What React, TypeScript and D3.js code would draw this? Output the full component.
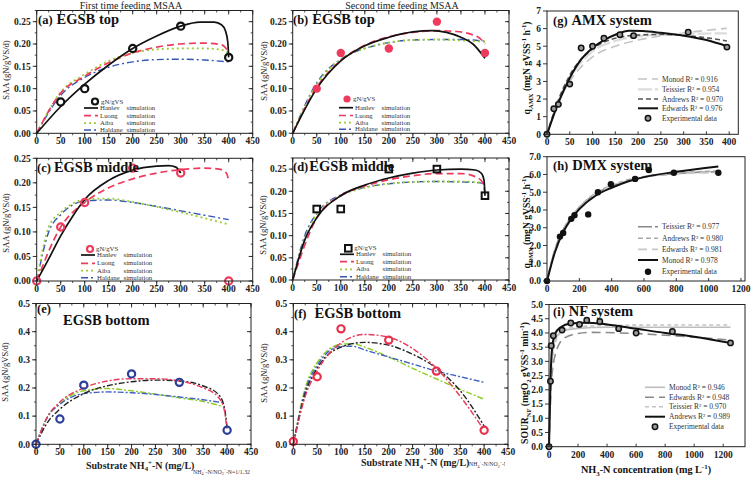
import React from 'react';
import * as d3 from 'd3';

type P = [number, number];

// ---------- tick labels ----------
const saaXTicks = [0, 50, 100, 150, 200, 250, 300, 350, 400, 450];
const saaYTicks = [0, 0.05, 0.1, 0.15, 0.2, 0.25];
const botYTicks = [0, 0.1, 0.2, 0.3, 0.4, 0.5];
const gXTicks = [0, 50, 100, 150, 200, 250, 300, 350, 400];
const gYTicks = [0, 1, 2, 3, 4, 5, 6, 7];
const hXTicks = [0, 200, 400, 600, 800, 1000, 1200];
const hYTicks = [0, 1, 2, 3, 4, 5, 6, 7];
const iXTicks = [0, 200, 400, 600, 800, 1000, 1200];
const iYTicks = [0, 0.5, 1, 1.5, 2, 2.5, 3, 3.5, 4, 4.5, 5];

// ---------- (a) ----------
const aObsX = [50, 100, 200, 300, 400];
const aObsY = [0.07, 0.10, 0.19, 0.24, 0.17];
const aHanlev: P[] = [[0, 0], [50, 0.06], [100, 0.11], [150, 0.153], [200, 0.19], [250, 0.218], [300, 0.24], [340, 0.249], [370, 0.249], [385, 0.243], [393, 0.23], [398, 0.205], [400, 0.17]];
const aLuong: P[] = [[0, 0], [50, 0.09], [100, 0.128], [150, 0.158], [200, 0.18], [250, 0.193], [300, 0.2], [350, 0.202], [385, 0.198], [400, 0.182]];
const aAiba: P[] = [[0, 0], [50, 0.092], [100, 0.132], [150, 0.162], [200, 0.18], [250, 0.188], [300, 0.19], [350, 0.19], [385, 0.187], [400, 0.18]];
const aHaldane: P[] = [[0, 0], [50, 0.085], [100, 0.125], [150, 0.148], [200, 0.16], [250, 0.165], [300, 0.166], [350, 0.164], [400, 0.16]];

// ---------- (b) ----------
const bObsX = [50, 100, 200, 300, 400];
const bObsY = [0.10, 0.18, 0.19, 0.25, 0.18];
const bHanlev: P[] = [[0, 0], [50, 0.1], [100, 0.162], [150, 0.196], [200, 0.215], [250, 0.227], [290, 0.23], [320, 0.226], [350, 0.215], [375, 0.2], [400, 0.168]];
const bLuong: P[] = [[0, 0], [50, 0.103], [100, 0.163], [150, 0.197], [200, 0.216], [250, 0.226], [300, 0.23], [340, 0.228], [370, 0.222], [390, 0.212], [400, 0.2]];
const bAiba: P[] = [[0, 0], [50, 0.11], [100, 0.165], [150, 0.19], [200, 0.203], [250, 0.209], [300, 0.21], [350, 0.208], [400, 0.205]];
const bHaldane: P[] = [[0, 0], [50, 0.113], [100, 0.166], [150, 0.19], [200, 0.203], [250, 0.209], [300, 0.21], [350, 0.21], [400, 0.206]];

// ---------- (c) ----------
const cObsX = [0, 50, 100, 200, 300, 400];
const cObsY = [0, 0.11, 0.16, 0.23, 0.22, 0.0];
const cHanlev: P[] = [[0, 0], [25, 0.045], [50, 0.092], [75, 0.132], [100, 0.166], [150, 0.205], [200, 0.226], [250, 0.234], [275, 0.235], [290, 0.232], [300, 0.22]];
const cLuong: P[] = [[0, 0], [50, 0.11], [100, 0.16], [150, 0.19], [200, 0.208], [250, 0.22], [300, 0.227], [350, 0.23], [380, 0.228], [395, 0.22], [400, 0.205]];
const cAiba: P[] = [[0, 0], [25, 0.11], [50, 0.14], [75, 0.158], [100, 0.166], [150, 0.168], [200, 0.161], [250, 0.151], [300, 0.14], [350, 0.128], [400, 0.115]];
const cHaldane: P[] = [[0, 0], [25, 0.1], [50, 0.135], [75, 0.155], [100, 0.163], [150, 0.165], [200, 0.16], [250, 0.152], [300, 0.143], [350, 0.134], [400, 0.125]];

// ---------- (d) ----------
const dObsX = [50, 100, 200, 300, 400];
const dObsY = [0.16, 0.16, 0.25, 0.25, 0.19];
const dHanlev: P[] = [[0, 0], [25, 0.09], [50, 0.14], [100, 0.19], [150, 0.214], [200, 0.23], [250, 0.241], [300, 0.248], [350, 0.25], [380, 0.248], [393, 0.24], [398, 0.225], [400, 0.19]];
const dLuong: P[] = [[0, 0], [50, 0.14], [100, 0.19], [150, 0.212], [200, 0.226], [250, 0.235], [300, 0.24], [350, 0.24], [380, 0.233], [395, 0.22], [400, 0.198]];
const dAiba: P[] = [[0, 0], [25, 0.095], [50, 0.148], [100, 0.19], [150, 0.208], [200, 0.217], [250, 0.221], [300, 0.222], [350, 0.222], [400, 0.219]];
const dHaldane: P[] = [[0, 0], [25, 0.1], [50, 0.15], [100, 0.192], [150, 0.209], [200, 0.217], [250, 0.221], [300, 0.222], [350, 0.221], [390, 0.219], [400, 0.215]];

// ---------- (e) ----------
const eObsX = [0, 50, 100, 200, 300, 400];
const eObsY = [0, 0.09, 0.21, 0.25, 0.22, 0.05];
const eRed: P[] = [[0, 0], [25, 0.1], [50, 0.15], [100, 0.2], [150, 0.225], [200, 0.233], [250, 0.233], [300, 0.225], [350, 0.2], [380, 0.17], [393, 0.13], [400, 0.05]];
const eBlack: P[] = [[0, 0], [25, 0.08], [50, 0.125], [100, 0.18], [150, 0.208], [200, 0.222], [250, 0.228], [300, 0.225], [350, 0.207], [380, 0.18], [393, 0.14], [400, 0.06]];
const eGreen: P[] = [[0, 0], [25, 0.1], [50, 0.145], [100, 0.19], [150, 0.198], [200, 0.19], [250, 0.178], [300, 0.165], [350, 0.152], [390, 0.135]];
const eBlue: P[] = [[0, 0], [25, 0.1], [50, 0.142], [100, 0.18], [150, 0.186], [200, 0.183], [250, 0.177], [300, 0.168], [350, 0.158], [390, 0.148]];

// ---------- (f) ----------
const fObsX = [0, 50, 100, 200, 300, 400];
const fObsY = [0.01, 0.24, 0.41, 0.37, 0.26, 0.05];
const fRed: P[] = [[0, 0], [25, 0.17], [50, 0.26], [100, 0.36], [150, 0.39], [200, 0.38], [250, 0.34], [300, 0.27], [350, 0.17], [400, 0.05]];
const fBlack: P[] = [[0, 0], [25, 0.18], [50, 0.27], [100, 0.345], [150, 0.362], [200, 0.352], [250, 0.32], [300, 0.27], [350, 0.19], [400, 0.065]];
const fGreen: P[] = [[0, 0], [25, 0.2], [50, 0.29], [100, 0.355], [125, 0.357], [150, 0.345], [200, 0.31], [250, 0.27], [300, 0.232], [350, 0.195], [400, 0.16]];
const fBlue: P[] = [[0, 0], [25, 0.19], [50, 0.28], [100, 0.348], [125, 0.348], [150, 0.335], [200, 0.31], [250, 0.285], [300, 0.26], [350, 0.24], [400, 0.22]];

// ---------- (g) ----------
const gObsX = [0, 15, 25, 50, 75, 100, 125, 160, 190, 310, 395];
const gObsY = [0, 1.45, 1.7, 2.85, 4.9, 5.0, 5.45, 5.65, 5.6, 5.8, 4.95];
const gEdwards: P[] = [[0, 0], [25, 1.8], [50, 3.2], [75, 4.25], [100, 4.9], [125, 5.35], [150, 5.65], [180, 5.88], [210, 5.86], [250, 5.76], [300, 5.6], [350, 5.35], [395, 5.0]];
const gAndrews: P[] = [[0, 0], [25, 1.95], [50, 3.35], [100, 4.85], [150, 5.45], [200, 5.63], [250, 5.67], [300, 5.62], [350, 5.48], [395, 5.3]];
const gTeissier: P[] = [[0, 0], [25, 1.9], [50, 3.2], [100, 4.7], [150, 5.3], [200, 5.55], [250, 5.65], [300, 5.7], [350, 5.72], [395, 5.73]];
const gMonod: P[] = [[0, 0], [25, 1.8], [50, 3.0], [100, 4.4], [150, 5.0], [200, 5.35], [250, 5.58], [300, 5.75], [350, 5.9], [395, 6.02]];

// ---------- (h) ----------
const hObsX = [0, 80, 100, 150, 170, 255, 315, 395, 545, 630, 785, 1060];
const hObsY = [0, 2.5, 2.7, 3.5, 3.7, 3.75, 5.0, 5.45, 5.75, 6.25, 6.1, 6.1];
const hMonod: P[] = [[0, 0], [50, 1.65], [100, 2.75], [150, 3.5], [200, 4.05], [300, 4.8], [400, 5.25], [500, 5.6], [600, 5.85], [800, 6.15], [1060, 6.45]];
const hTeissier: P[] = [[0, 0], [50, 1.8], [100, 2.9], [150, 3.6], [200, 4.15], [300, 4.9], [400, 5.35], [500, 5.65], [600, 5.85], [800, 6.05], [1060, 6.15]];
const hAndrews: P[] = [[0, 0], [50, 1.75], [100, 2.85], [200, 4.15], [300, 4.95], [400, 5.4], [500, 5.7], [600, 5.88], [800, 6.08], [1060, 6.2]];
const hEdwards: P[] = [[0, 0], [50, 1.75], [100, 2.85], [200, 4.1], [300, 4.9], [400, 5.35], [500, 5.65], [600, 5.85], [800, 6.05], [1060, 6.1]];

// ---------- (i) ----------
const iObsX = [0, 10, 15, 30, 90, 150, 210, 260, 350, 480, 600, 850, 1250];
const iObsY = [0, 2.3, 3.55, 3.9, 4.1, 4.35, 4.3, 4.45, 4.4, 4.15, 4.0, 4.05, 3.65];
const iAndrews: P[] = [[0, 0], [10, 2.3], [20, 3.4], [40, 3.95], [80, 4.2], [150, 4.33], [250, 4.36], [400, 4.3], [600, 4.15], [800, 4.0], [1000, 3.87], [1250, 3.65]];
const iMonod: P[] = [[0, 0], [20, 3.1], [50, 3.85], [100, 4.08], [200, 4.16], [400, 4.2], [800, 4.2], [1250, 4.2]];
const iEdwards: P[] = [[0, 0], [20, 2.5], [50, 3.35], [100, 3.8], [200, 3.98], [300, 4.02], [500, 4.0], [800, 3.92], [1000, 3.85], [1250, 3.75]];
const iTeissier: P[] = [[0, 0], [20, 2.9], [50, 3.75], [100, 4.1], [200, 4.22], [400, 4.26], [800, 4.28], [1250, 4.28]];

const FONT = '"Liberation Serif","DejaVu Serif","Times New Roman",serif';

const C_RED = '#ee3a5c';
const C_GREEN = '#9acd32';
const C_BLUE = '#3555b5';

interface Sty { color: string; dash: string; w: number; }
const HAN: Sty = { color: '#111', dash: '', w: 1.7 };
const LUO: Sty = { color: C_RED, dash: '7,4', w: 1.7 };
const AIB: Sty = { color: C_GREEN, dash: '2,3', w: 1.8 };
const HAL: Sty = { color: C_BLUE, dash: '7,3,2,3', w: 1.4 };
const DD = '6,2,2,2';

interface Series { pts: P[]; s: Sty; }
interface Cfg {
  l: number; r: number; t: number; b: number;
  xd: [number, number]; yd: [number, number];
  xt: number[]; yt: number[]; yfmt: string; xminor?: number; yminor?: number;
  kind: 'saa' | 'kin';
  series: Series[];
  ox: number[]; oy: number[]; marker: string; mcolor: string;
}

const panels: Cfg[] = [
  { l: 36.7, r: 252.7, t: 10.5, b: 133.3, xd: [0, 450], yd: [0, 0.275], xt: saaXTicks, yt: saaYTicks, yfmt: '.2f', xminor: 25, yminor: 0.025, kind: 'saa',
    series: [{ pts: aHaldane, s: HAL }, { pts: aAiba, s: AIB }, { pts: aLuong, s: LUO }, { pts: aHanlev, s: HAN }],
    ox: aObsX, oy: aObsY, marker: 'ring', mcolor: '#111' },
  { l: 292.7, r: 509, t: 10.5, b: 133.3, xd: [0, 450], yd: [0, 0.275], xt: saaXTicks, yt: saaYTicks, yfmt: '.2f', xminor: 25, yminor: 0.025, kind: 'saa',
    series: [{ pts: bHaldane, s: HAL }, { pts: bAiba, s: AIB }, { pts: bLuong, s: LUO }, { pts: bHanlev, s: HAN }],
    ox: bObsX, oy: bObsY, marker: 'filled', mcolor: C_RED },
  { l: 36.7, r: 252.7, t: 158.3, b: 281, xd: [0, 450], yd: [0, 0.25], xt: saaXTicks, yt: saaYTicks, yfmt: '.2f', xminor: 25, yminor: 0.025, kind: 'saa',
    series: [{ pts: cHaldane, s: HAL }, { pts: cAiba, s: AIB }, { pts: cLuong, s: LUO }, { pts: cHanlev, s: HAN }],
    ox: cObsX, oy: cObsY, marker: 'ring', mcolor: C_RED },
  { l: 292.7, r: 509, t: 158, b: 280, xd: [0, 450], yd: [0, 0.275], xt: saaXTicks, yt: saaYTicks, yfmt: '.2f', xminor: 25, yminor: 0.025, kind: 'saa',
    series: [{ pts: dHaldane, s: HAL }, { pts: dAiba, s: AIB }, { pts: dLuong, s: LUO }, { pts: dHanlev, s: HAN }],
    ox: dObsX, oy: dObsY, marker: 'square', mcolor: '#111' },
  { l: 36, r: 251, t: 303.5, b: 444.3, xd: [0, 450], yd: [0, 0.5], xt: saaXTicks, yt: botYTicks, yfmt: '.1f', xminor: 25, yminor: 0.05, kind: 'saa',
    series: [{ pts: eGreen, s: { color: '#8ccc22', dash: DD, w: 1.4 } }, { pts: eBlue, s: { color: '#4060c0', dash: DD, w: 1.4 } },
      { pts: eBlack, s: { color: '#222', dash: DD, w: 1.4 } }, { pts: eRed, s: { color: '#e83a5a', dash: DD, w: 1.4 } }],
    ox: eObsX, oy: eObsY, marker: 'ring', mcolor: '#2a3f9a' },
  { l: 293.3, r: 508, t: 303.5, b: 444.3, xd: [0, 450], yd: [0, 0.5], xt: saaXTicks, yt: botYTicks, yfmt: '.1f', xminor: 25, yminor: 0.05, kind: 'saa',
    series: [{ pts: fGreen, s: { color: '#8ccc22', dash: DD, w: 1.4 } }, { pts: fBlue, s: { color: '#4060c0', dash: DD, w: 1.4 } },
      { pts: fBlack, s: { color: '#222', dash: DD, w: 1.4 } }, { pts: fRed, s: { color: '#e83a5a', dash: DD, w: 1.4 } }],
    ox: fObsX, oy: fObsY, marker: 'ring', mcolor: '#e8304a' },
  { l: 547, r: 738.3, t: 11, b: 134.3, xd: [0, 420], yd: [0, 7], xt: gXTicks, yt: gYTicks, yfmt: 'd', kind: 'kin',
    series: [{ pts: gMonod, s: { color: '#c4c4c4', dash: '9,5', w: 1.6 } }, { pts: gTeissier, s: { color: '#dcdcdc', dash: '14,3', w: 2.2 } },
      { pts: gAndrews, s: { color: '#555', dash: '5,3', w: 1.6 } }, { pts: gEdwards, s: { color: '#111', dash: '', w: 2 } }],
    ox: gObsX, oy: gObsY, marker: 'grey', mcolor: '#111' },
  { l: 547, r: 745, t: 156.7, b: 281, xd: [0, 1225], yd: [0, 7], xt: hXTicks, yt: hYTicks, yfmt: '.1f', kind: 'kin',
    series: [{ pts: hTeissier, s: { color: '#888', dash: '14,3', w: 1.6 } }, { pts: hAndrews, s: { color: '#aaa', dash: '5,3', w: 1.6 } },
      { pts: hEdwards, s: { color: '#c8c8c8', dash: '9,5', w: 1.8 } }, { pts: hMonod, s: { color: '#111', dash: '', w: 2 } }],
    ox: hObsX, oy: hObsY, marker: 'dot', mcolor: '#111' },
  { l: 549, r: 745, t: 304.5, b: 446.7, xd: [0, 1350], yd: [0, 5], xt: iXTicks, yt: iYTicks, yfmt: '.1f', kind: 'kin',
    series: [{ pts: iMonod, s: { color: '#bdbdbd', dash: '', w: 1.6 } }, { pts: iEdwards, s: { color: '#8a8a8a', dash: '9,5', w: 1.6 } },
      { pts: iTeissier, s: { color: '#c4c4c4', dash: '4,3', w: 1.6 } }, { pts: iAndrews, s: { color: '#111', dash: '', w: 2 } }],
    ox: iObsX, oy: iObsY, marker: 'grey', mcolor: '#111' },
];

function Marker({ kind, x, y, color, r = 3.6 }: { kind: string; x: number; y: number; color: string; r?: number }) {
  if (kind === 'ring') return <circle cx={x} cy={y} r={r} fill="none" stroke={color} strokeWidth={2.2} />;
  if (kind === 'filled') return <circle cx={x} cy={y} r={r + 0.6} fill={color} stroke="none" />;
  if (kind === 'square') return <rect x={x - 3.3} y={y - 3.3} width={6.6} height={6.6} fill="none" stroke={color} strokeWidth={2} />;
  if (kind === 'grey') return <circle cx={x} cy={y} r={2.7} fill="#9a9a9a" stroke={color} strokeWidth={1.5} />;
  return <circle cx={x} cy={y} r={3.2} fill={color} />;
}

function PanelView({ c }: { c: Cfg }) {
  const x = d3.scaleLinear().domain(c.xd).range([c.l, c.r]);
  const y = d3.scaleLinear().domain(c.yd).range([c.b, c.t]);
  const line = d3.line<P>().x(d => x(d[0])).y(d => y(d[1])).curve(d3.curveMonotoneX);
  const fmt = d3.format(c.yfmt);
  const saa = c.kind === 'saa';
  const xminors: number[] = [];
  const yminors: number[] = [];
  if (c.xminor) for (let v = c.xd[0]; v <= c.xd[1] + 1e-9; v += c.xminor) xminors.push(v);
  if (c.yminor) for (let v = c.yd[0]; v <= c.yd[1] + 1e-9; v += c.yminor) yminors.push(v);
  return (
    <g>
      {c.series.map((s, i) => (
        <path key={i} d={line(s.pts) || ''} fill="none" stroke={s.s.color} strokeWidth={s.s.w} strokeDasharray={s.s.dash || undefined} />
      ))}
      {c.ox.map((v, i) => <Marker key={i} kind={c.marker} x={x(v)} y={y(c.oy[i])} color={c.mcolor} />)}
      <rect x={c.l} y={c.t} width={c.r - c.l} height={c.b - c.t} fill="none" stroke="#222" strokeWidth={1} />
      {saa && xminors.map((v, i) => (
        <g key={'xm' + i} stroke="#222" strokeWidth={0.8}>
          <line x1={x(v)} x2={x(v)} y1={c.b} y2={c.b + 2} />
          <line x1={x(v)} x2={x(v)} y1={c.t} y2={c.t + 2} />
        </g>
      ))}
      {saa && yminors.map((v, i) => (
        <g key={'ym' + i} stroke="#222" strokeWidth={0.8}>
          <line x1={c.l} x2={c.l - 2} y1={y(v)} y2={y(v)} />
          <line x1={c.r} x2={c.r - 2} y1={y(v)} y2={y(v)} />
        </g>
      ))}
      {c.xt.map((v, i) => (
        <g key={'xt' + i}>
          <line x1={x(v)} x2={x(v)} y1={c.b} y2={saa ? c.b + 4 : c.b - 3} stroke="#222" strokeWidth={0.9} />
          {saa && <line x1={x(v)} x2={x(v)} y1={c.t} y2={c.t + 4} stroke="#222" strokeWidth={0.9} />}
          <text x={x(v)} y={c.b + 11} textAnchor="middle" fontSize={9.5} fontWeight="bold" fill="#222">{v}</text>
        </g>
      ))}
      {c.yt.map((v, i) => (
        <g key={'yt' + i}>
          <line x1={c.l} x2={c.l - 4} y1={y(v)} y2={y(v)} stroke="#222" strokeWidth={0.9} />
          {saa && <line x1={c.r} x2={c.r - 4} y1={y(v)} y2={y(v)} stroke="#222" strokeWidth={0.9} />}
          <text x={c.l - 6} y={y(v) + 3.3} textAnchor="end" fontSize={9.5} fontWeight="bold" fill="#222">{fmt(v)}</text>
        </g>
      ))}
    </g>
  );
}

function SaaLegend({ lx, mx, my, rows, marker, mcolor }: { lx: number; mx: number; my: number; rows: number[]; marker: string; mcolor: string }) {
  const stys = [HAN, LUO, AIB, HAL];
  const names = ['Hanlev', 'Luong', 'Aiba', 'Haldane'];
  return (
    <g fontSize={6.8} fill="#333">
      <Marker kind={marker} x={mx} y={my} color={mcolor} r={3} />
      <text x={mx + 6} y={my + 2}>gN/gVS</text>
      {rows.map((ry, i) => (
        <g key={i}>
          <line x1={lx} x2={lx + 14} y1={ry} y2={ry} stroke={stys[i].color} strokeWidth={stys[i].w} strokeDasharray={stys[i].dash || undefined} />
          <text x={lx + 16} y={ry + 2}>{names[i]}</text>
          <text x={lx + 42.5} y={ry + 2}>simulation</text>
        </g>
      ))}
    </g>
  );
}

function KinLegend({ lx, rows, names, stys, marker }: { lx: number; rows: number[]; names: string[]; stys: Sty[]; marker: string }) {
  return (
    <g fontSize={7.5} fill="#333">
      {rows.map((ry, i) => (
        <g key={i}>
          {i < stys.length ? (
            <line x1={lx} x2={lx + 20} y1={ry} y2={ry} stroke={stys[i].color} strokeWidth={stys[i].w} strokeDasharray={stys[i].dash || undefined} />
          ) : (
            <Marker kind={marker} x={lx + 10} y={ry} color="#111" />
          )}
          <text x={lx + 24} y={ry + 2.6}>{names[i]}</text>
        </g>
      ))}
    </g>
  );
}

type Seg = { t: string; k?: 'sub' | 'sup' };
function Rich({ segs, size }: { segs: Seg[]; size: number }) {
  let prev = 0;
  return (
    <>
      {segs.map((s, i) => {
        const sh = s.k === 'sub' ? size * 0.28 : s.k === 'sup' ? -size * 0.38 : 0;
        const dy = sh - prev;
        prev = sh;
        return <tspan key={i} dy={dy} fontSize={s.k ? size * 0.68 : size}>{s.t}</tspan>;
      })}
    </>
  );
}

function Title({ x, y, lab, name, gap = 4 }: { x: number; y: number; lab: string; name: string; gap?: number }) {
  return (
    <text x={x} y={y} fontWeight="bold" fill="#111">
      <tspan fontSize={12.5}>{lab}</tspan>
      <tspan dx={gap} fontSize={14.5}>{name}</tspan>
    </text>
  );
}

export default function App() {
  const saaLabel = 'SAA (gN/gVS/d)';
  const nhx: Seg[] = [{ t: 'Substrate NH' }, { t: '4', k: 'sub' }, { t: '+', k: 'sup' }, { t: '-N (mg/L)' }];
  const ratio: Seg[] = [{ t: 'NH' }, { t: '4', k: 'sub' }, { t: '+', k: 'sup' }, { t: '-N/NO' }, { t: '2', k: 'sub' }, { t: '−', k: 'sup' }, { t: '-N=1/1.32' }];
  return (
    <svg width={756} height={482} style={{ position: 'absolute', left: 0, top: 0, background: '#fff' }} fontFamily={FONT}>
      <defs>
        <clipPath id="colf"><rect x={0} y={0} width={505} height={482} /></clipPath>
      </defs>
      <rect width={756} height={482} fill="#fff" />
      <text x={131} y={8.5} textAnchor="middle" fontSize={10} fill="#222">First time feeding MSAA</text>
      <text x={402} y={8.5} textAnchor="middle" fontSize={10} fill="#222">Second time feeding MSAA</text>

      {panels.map((c, i) => <PanelView key={i} c={c} />)}

      <Title x={38} y={23.5} lab="(a)" name="EGSB top" />
      <Title x={293} y={23.5} lab="(b)" name="EGSB top" />
      <Title x={37} y={171.5} lab="(c)" name="EGSB middle" gap={3} />
      <Title x={293} y={170.5} lab="(d)" name="EGSB middle" gap={1} />
      <text x={37} y={312.5} fontWeight="bold" fontSize={12.5} fill="#111">(e)</text>
      <text x={63} y={325} fontWeight="bold" fontSize={14.5} fill="#111">EGSB bottom</text>
      <Title x={294} y={317.5} lab="(f)" name="EGSB bottom" gap={8} />
      <Title x={553} y={24.5} lab="(g)" name="AMX system" />
      <Title x={553} y={170} lab="(h)" name="DMX system" />
      <Title x={553} y={316} lab="(i)" name="NF system" />

      <SaaLegend lx={84} mx={95} my={101.5} rows={[108, 115.7, 123.2, 130]} marker="ring" mcolor="#111" />
      <SaaLegend lx={339} mx={347} my={99} rows={[107.7, 115.5, 122.7, 129.2]} marker="filled" mcolor={C_RED} />
      <SaaLegend lx={81} mx={90} my={249} rows={[255, 263.3, 270.7, 277.7]} marker="ring" mcolor={C_RED} />
      <SaaLegend lx={340} mx={348.3} my={248.3} rows={[254.3, 261.7, 269.3, 276.7]} marker="square" mcolor="#111" />

      <KinLegend lx={638} rows={[79, 89.3, 99, 108.3, 118.3]} marker="grey"
        names={['Monod R² = 0.916', 'Teissier R² = 0.954', 'Andrews R² = 0.970', 'Edwards R² = 0.976', 'Experimental data']}
        stys={panels[6].series.map(s => s.s)} />
      <KinLegend lx={638} rows={[226.7, 238.3, 249.3, 260, 271.7]} marker="dot"
        names={['Teissier R² = 0.977', 'Andrews R² = 0.980', 'Edwards R² = 0.981', 'Monod R² = 0.978', 'Experimental data']}
        stys={panels[7].series.map(s => s.s)} />
      <KinLegend lx={645} rows={[387.3, 397.3, 406.7, 416.7, 426.7]} marker="grey"
        names={['Monod R² = 0.946', 'Edwards R² = 0.948', 'Teissier R² = 0.970', 'Andrews R² = 0.989', 'Experimental data']}
        stys={panels[8].series.map(s => s.s)} />

      {[[9, 70], [266.5, 71], [8.5, 223], [266, 225], [8, 372], [266.5, 373]].map(([x, y], i) => (
        <text key={i} transform={`translate(${x},${y}) rotate(-90)`} textAnchor="middle" fontSize={8.6} fill="#222">{saaLabel}</text>
      ))}

      <text transform="translate(530,68) rotate(-90)" textAnchor="middle" fontWeight="bold" fill="#111">
        <Rich size={9.6} segs={[{ t: 'q' }, { t: 'AMX', k: 'sub' }, { t: ' (mgN gVSS' }, { t: '-1', k: 'sup' }, { t: ' h' }, { t: '-1', k: 'sup' }, { t: ')' }]} />
      </text>
      <text transform="translate(530,222) rotate(-90)" textAnchor="middle" fontWeight="bold" fill="#111">
        <Rich size={9.6} segs={[{ t: 'q' }, { t: 'DMX', k: 'sub' }, { t: ' (mgN gVSS' }, { t: '-1', k: 'sup' }, { t: ' h' }, { t: '-1', k: 'sup' }, { t: ')' }]} />
      </text>
      <text transform="translate(528,383) rotate(-90)" textAnchor="middle" fontWeight="bold" fill="#111">
        <Rich size={9.6} segs={[{ t: 'SOUR' }, { t: 'NF', k: 'sub' }, { t: ' (mgO' }, { t: '2', k: 'sub' }, { t: ' gVSS' }, { t: '-1', k: 'sup' }, { t: ' min' }, { t: '-1', k: 'sup' }, { t: ')' }]} />
      </text>

      <text x={86} y={468.5} fontWeight="bold" fill="#222"><Rich size={10} segs={nhx} /></text>
      <text x={193} y={473.5} fill="#333"><Rich size={5.8} segs={ratio} /></text>
      <text x={361} y={466} fontWeight="bold" fill="#222"><Rich size={10} segs={nhx} /></text>
      <g clipPath="url(#colf)">
        <text x={469} y={466} fill="#333"><Rich size={5.8} segs={ratio} /></text>
      </g>

      <text x={646} y={473} textAnchor="middle" fontWeight="bold" fill="#111">
        <Rich size={10.2} segs={[{ t: 'NH' }, { t: '3', k: 'sub' }, { t: '-N concentration (mg L' }, { t: '-1', k: 'sup' }, { t: ')' }]} />
      </text>
    </svg>
  );
}
